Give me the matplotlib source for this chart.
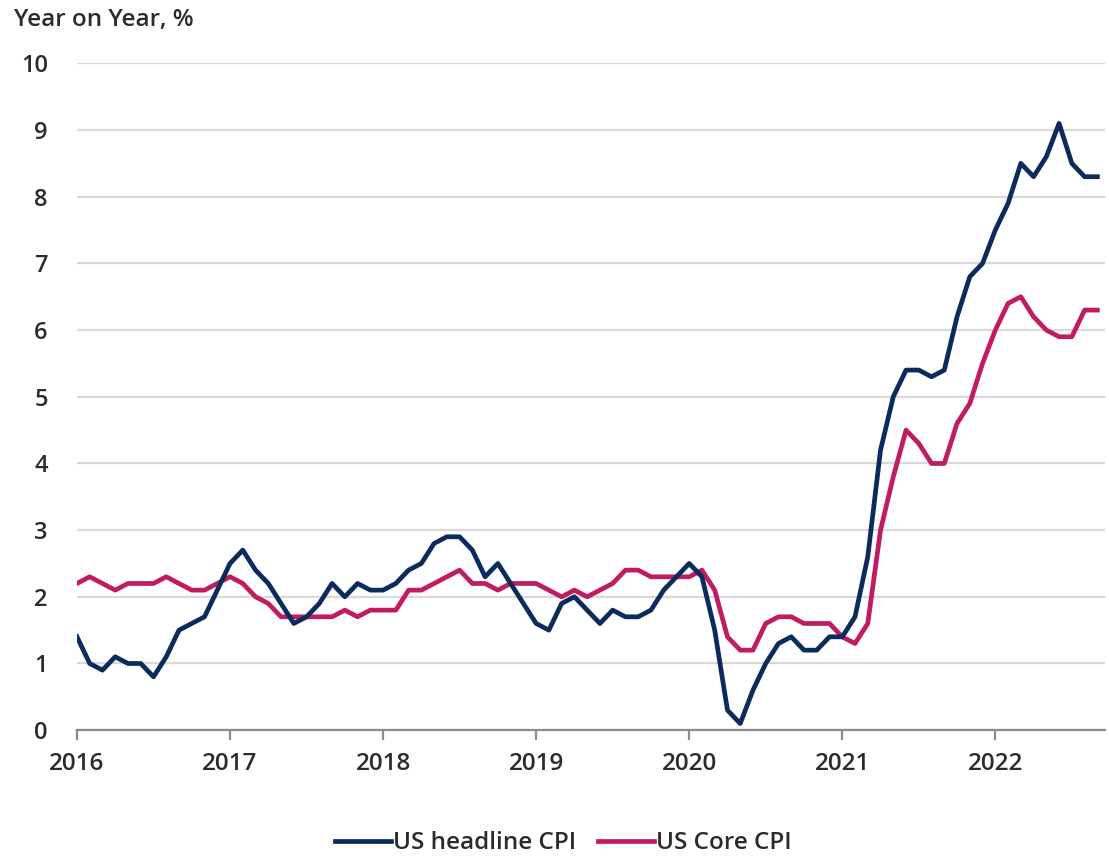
import matplotlib
matplotlib.use('Agg')
import matplotlib.pyplot as plt
import numpy as np

plt.rcParams['font.family'] = ['Open Sans', 'DejaVu Sans']
plt.rcParams['font.weight'] = 'semibold'

# monthly, Jan 2016 - Sep 2022
headline = [1.4, 1.0, 0.9, 1.1, 1.0, 1.0, 0.8, 1.1, 1.5, 1.6, 1.7, 2.1,
            2.5, 2.7, 2.4, 2.2, 1.9, 1.6, 1.7, 1.9, 2.2, 2.0, 2.2, 2.1,
            2.1, 2.2, 2.4, 2.5, 2.8, 2.9, 2.9, 2.7, 2.3, 2.5, 2.2, 1.9,
            1.6, 1.5, 1.9, 2.0, 1.8, 1.6, 1.8, 1.7, 1.7, 1.8, 2.1, 2.3,
            2.5, 2.3, 1.5, 0.3, 0.1, 0.6, 1.0, 1.3, 1.4, 1.2, 1.2, 1.4,
            1.4, 1.7, 2.6, 4.2, 5.0, 5.4, 5.4, 5.3, 5.4, 6.2, 6.8, 7.0,
            7.5, 7.9, 8.5, 8.3, 8.6, 9.1, 8.5, 8.3, 8.3]
core = [2.2, 2.3, 2.2, 2.1, 2.2, 2.2, 2.2, 2.3, 2.2, 2.1, 2.1, 2.2,
        2.3, 2.2, 2.0, 1.9, 1.7, 1.7, 1.7, 1.7, 1.7, 1.8, 1.7, 1.8,
        1.8, 1.8, 2.1, 2.1, 2.2, 2.3, 2.4, 2.2, 2.2, 2.1, 2.2, 2.2,
        2.2, 2.1, 2.0, 2.1, 2.0, 2.1, 2.2, 2.4, 2.4, 2.3, 2.3, 2.3,
        2.3, 2.4, 2.1, 1.4, 1.2, 1.2, 1.6, 1.7, 1.7, 1.6, 1.6, 1.6,
        1.4, 1.3, 1.6, 3.0, 3.8, 4.5, 4.3, 4.0, 4.0, 4.6, 4.9, 5.5,
        6.0, 6.4, 6.5, 6.2, 6.0, 5.9, 5.9, 6.3, 6.3]
years = ['2016', '2017', '2018', '2019', '2020', '2021', '2022']

navy = '#0b2b5c'
magenta = '#c01c61'
text_col = '#2b2b2b'

t = np.arange(len(headline))

fig = plt.figure(figsize=(11.09, 8.56), dpi=100)
ax = fig.add_axes([0.0694, 0.147, 0.927, 0.779])

ax.plot(t, headline, color=navy, lw=3.4, label='US headline CPI', zorder=3)
ax.plot(t, core, color=magenta, lw=3.4, label='US Core CPI', zorder=2)

ax.set_ylim(0, 10)
ax.set_xlim(0, 80.6)
ax.set_yticks(range(0, 11))
ax.set_xticks(np.arange(len(years)) * 12)
ax.set_xticklabels(years)
ax.yaxis.grid(True, color='#d9d9d9', lw=1.6)
ax.set_axisbelow(True)

for s in ['top', 'right', 'left']:
    ax.spines[s].set_visible(False)
ax.spines['bottom'].set_color('#8c8c8c')
ax.spines['bottom'].set_linewidth(1.6)
ax.tick_params(axis='y', length=0, pad=21, labelsize=17, labelcolor=text_col)
ax.tick_params(axis='x', length=7, width=1.6, color='#8c8c8c', pad=9,
               labelsize=17.5, labelcolor=text_col)

fig.text(0.013, 0.977, 'Year on Year, %', fontsize=17.5, color=text_col,
         va='center', ha='left')

fig.legend(loc='center', bbox_to_anchor=(0.508, 0.015), ncol=2, frameon=False,
           fontsize=17.5, handlelength=2.3, handletextpad=0.1, columnspacing=0.9,
           labelcolor=text_col)

fig.savefig('out.png', dpi=100)
